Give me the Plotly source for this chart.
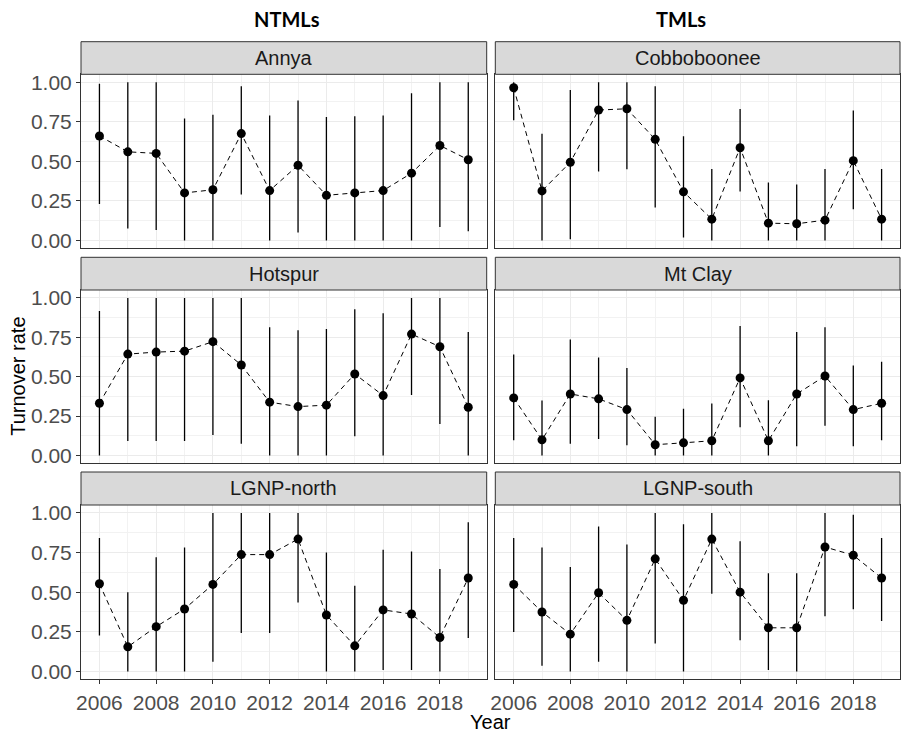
import plotly.graph_objects as go

# Survey years
years = list(range(2006, 2020))

# Turnover rate estimates with lower / upper interval bounds per site
annya_rate = [0.66, 0.56, 0.55, 0.30, 0.32, 0.675, 0.315, 0.475, 0.285, 0.30, 0.315, 0.425, 0.60, 0.51]
annya_lo   = [0.23, 0.075, 0.065, 0.0, 0.0, 0.29, 0.0, 0.05, 0.0, 0.0, 0.0, 0.0, 0.085, 0.057]
annya_hi   = [0.99, 1.0, 1.0, 0.77, 0.795, 0.975, 0.79, 0.885, 0.78, 0.785, 0.79, 0.93, 1.0, 1.0]

cobbo_rate = [0.965, 0.313, 0.494, 0.824, 0.832, 0.639, 0.307, 0.134, 0.586, 0.109, 0.105, 0.128, 0.504, 0.134]
cobbo_lo   = [0.76, 0.0, 0.008, 0.435, 0.45, 0.208, 0.019, 0.0, 0.309, 0.0, 0.0, 0.0, 0.197, 0.0]
cobbo_hi   = [1.0, 0.674, 0.95, 1.0, 1.0, 0.975, 0.658, 0.452, 0.83, 0.366, 0.353, 0.452, 0.821, 0.452]

hotspur_rate = [0.331, 0.643, 0.656, 0.662, 0.722, 0.574, 0.338, 0.31, 0.319, 0.517, 0.38, 0.77, 0.69, 0.306]
hotspur_lo   = [0.0, 0.091, 0.091, 0.091, 0.129, 0.074, 0.0, 0.0, 0.0, 0.122, 0.0, 0.384, 0.2, 0.0]
hotspur_hi   = [0.916, 1.0, 1.0, 1.0, 1.0, 1.0, 0.814, 0.795, 0.802, 0.928, 0.903, 1.0, 1.0, 0.783]

mtclay_rate = [0.365, 0.099, 0.39, 0.359, 0.291, 0.068, 0.08, 0.093, 0.492, 0.093, 0.39, 0.504, 0.291, 0.331]
mtclay_lo   = [0.097, 0.0, 0.074, 0.105, 0.065, 0.0, 0.0, 0.0, 0.179, 0.0, 0.059, 0.188, 0.059, 0.097]
mtclay_hi   = [0.641, 0.348, 0.736, 0.622, 0.555, 0.245, 0.297, 0.329, 0.821, 0.35, 0.783, 0.814, 0.57, 0.595]

north_rate = [0.553, 0.155, 0.282, 0.394, 0.549, 0.737, 0.737, 0.835, 0.356, 0.161, 0.388, 0.362, 0.214, 0.589]
north_lo   = [0.227, 0.0, 0.0, 0.0, 0.061, 0.242, 0.242, 0.434, 0.0, 0.0, 0.008, 0.008, 0.0, 0.21]
north_hi   = [0.841, 0.5, 0.72, 0.782, 1.0, 1.0, 1.0, 1.0, 0.75, 0.54, 0.767, 0.756, 0.646, 0.941]

south_rate = [0.549, 0.375, 0.235, 0.496, 0.322, 0.71, 0.449, 0.835, 0.5, 0.275, 0.275, 0.785, 0.733, 0.589]
south_lo   = [0.248, 0.036, 0.0, 0.061, 0.0, 0.176, 0.0, 0.49, 0.197, 0.008, 0.0, 0.348, 0.392, 0.318]
south_hi   = [0.841, 0.782, 0.658, 0.915, 0.801, 1.0, 0.928, 1.0, 0.822, 0.619, 0.619, 1.0, 0.989, 0.841]

site_names = ["Annya", "Cobboboonee", "Hotspur", "Mt Clay", "LGNP-north", "LGNP-south"]
column_titles = ["NTMLs", "TMLs"]
y_ticks = [0.0, 0.25, 0.5, 0.75, 1.0]
y_tick_text = ["0.00", "0.25", "0.50", "0.75", "1.00"]
x_ticks = [2006, 2008, 2010, 2012, 2014, 2016, 2018]

series = [
    (annya_rate, annya_lo, annya_hi),
    (cobbo_rate, cobbo_lo, cobbo_hi),
    (hotspur_rate, hotspur_lo, hotspur_hi),
    (mtclay_rate, mtclay_lo, mtclay_hi),
    (north_rate, north_lo, north_hi),
    (south_rate, south_lo, south_hi),
]

W, H = 906, 742
# panel geometry in pixels
col_x = [(81, 486.7), (495.3, 900)]
row_y = [(74.3, 248.3), (290, 463.3), (505, 679.3)]  # plot area top/bottom
strip_top = [41.7, 257.3, 472]

FONT = "Liberation Sans, Arial, sans-serif"
GRID = "#EBEBEB"
BORDER = "#333333"

fig = go.Figure()
layout = {}
shapes = []
annotations = []

for i, (name, (rate, lo, hi)) in enumerate(zip(site_names, series)):
    r, c = divmod(i, 2)
    k = i + 1
    xa = "x" if k == 1 else f"x{k}"
    ya = "y" if k == 1 else f"y{k}"
    up = [h - v for h, v in zip(hi, rate)]
    dn = [v - l for v, l in zip(rate, lo)]

    fig.add_trace(go.Scatter(
        x=years, y=rate, mode="lines", xaxis=xa, yaxis=ya,
        line=dict(color="#000000", width=1, dash="5px,4px"),
        hoverinfo="skip", showlegend=False))
    fig.add_trace(go.Scatter(
        x=years, y=rate, mode="markers", xaxis=xa, yaxis=ya,
        marker=dict(color="#000000", size=9),
        error_y=dict(type="data", symmetric=False, array=up, arrayminus=dn,
                     width=0, thickness=1.3, color="#000000"),
        name=name, showlegend=False))

    x0, x1 = col_x[c]
    yt, yb = row_y[r]
    bottom = (r == 2)
    left = (c == 0)
    layout[f"xaxis{k}"] = dict(
        domain=[x0 / W, x1 / W], anchor=ya, range=[2005.35, 2019.65], automargin=False,
        tickvals=x_ticks, showticklabels=bottom,
        ticks="outside" if bottom else "", ticklen=4, tickwidth=1, tickcolor=BORDER,
        tickfont=dict(family=FONT, size=21, color="#4D4D4D"),
        showgrid=True, gridcolor=GRID, gridwidth=1,
        minor=dict(dtick=1, tick0=2007, showgrid=True, gridcolor="#F2F2F2", gridwidth=0.6),
        showline=True, mirror=True, linecolor=BORDER, linewidth=1, zeroline=False)
    layout[f"yaxis{k}"] = dict(
        domain=[1 - yb / H, 1 - yt / H], anchor=xa, range=[-0.05, 1.05], automargin=False,
        tickvals=y_ticks, ticktext=y_tick_text, showticklabels=left,
        ticks="outside" if left else "", ticklen=4, tickwidth=1, tickcolor=BORDER,
        tickfont=dict(family=FONT, size=21, color="#4D4D4D"),
        showgrid=True, gridcolor=GRID, gridwidth=1,
        minor=dict(dtick=0.25, tick0=0.125, showgrid=True, gridcolor="#F2F2F2", gridwidth=0.6),
        showline=True, mirror=True, linecolor=BORDER, linewidth=1, zeroline=False)

    # facet strip
    st = strip_top[r]
    shapes.append(dict(type="rect", xref="paper", yref="paper",
                       x0=x0 / W, x1=x1 / W, y0=1 - yt / H, y1=1 - st / H,
                       fillcolor="#D9D9D9", line=dict(color=BORDER, width=1), layer="above"))
    annotations.append(dict(text=name, xref="paper", yref="paper",
                            x=(x0 + x1) / 2 / W, y=1 - (st + yt) / 2 / H,
                            showarrow=False, xanchor="center", yanchor="middle",
                            font=dict(family=FONT, size=20, color="#1A1A1A")))

# column headings
for title, xc in zip(column_titles, [287, 681]):
    annotations.append(dict(text=f"<b>{title}</b>", xref="paper", yref="paper",
                            x=xc / W, y=1 - 19.5 / H, showarrow=False,
                            xanchor="center", yanchor="middle",
                            font=dict(family="Lato, Open Sans, sans-serif", size=20, color="#000000")))

# shared axis titles
annotations.append(dict(text="Year", xref="paper", yref="paper", x=490.5 / W, y=1 - 722 / H,
                        showarrow=False, xanchor="center", yanchor="middle",
                        font=dict(family=FONT, size=20, color="#000000")))
annotations.append(dict(text="Turnover rate", xref="paper", yref="paper", x=18 / W, y=1 - 376.8 / H,
                        showarrow=False, xanchor="center", yanchor="middle", textangle=-90,
                        font=dict(family=FONT, size=20, color="#000000")))

fig.update_layout(
    width=W, height=H, margin=dict(l=0, r=0, t=0, b=0, autoexpand=False),
    paper_bgcolor="white", plot_bgcolor="white",
    shapes=shapes, annotations=annotations, showlegend=False,
    **layout)

fig.write_html("out.html")
